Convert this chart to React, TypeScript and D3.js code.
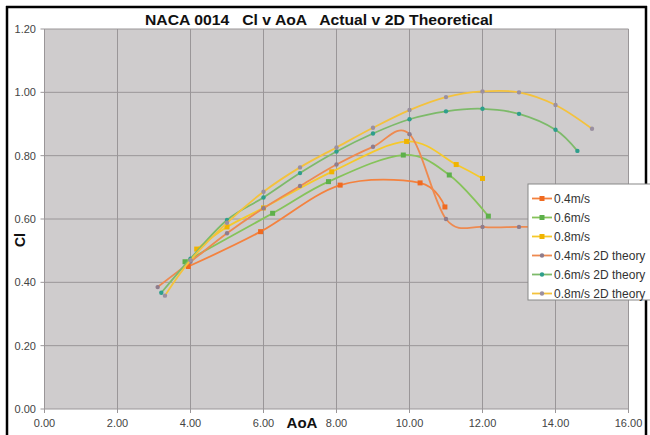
import React from "react";
import * as d3 from "d3";

const title = "NACA 0014   Cl v AoA   Actual v 2D Theoretical";
const xTicks = [0, 2, 4, 6, 8, 10, 12, 14, 16];
const yTicks = [0, 0.2, 0.4, 0.6, 0.8, 1.0, 1.2];

const aoa04 = [3.94, 5.92, 8.1, 10.29, 10.97];
const cl04 = [0.45, 0.56, 0.707, 0.714, 0.638];
const aoa06 = [3.85, 6.25, 7.78, 9.83, 11.09, 12.16];
const cl06 = [0.465, 0.618, 0.718, 0.802, 0.739, 0.609];
const aoa08 = [4.17, 5.0, 6.0, 7.87, 9.92, 11.28, 12.0];
const cl08 = [0.505, 0.575, 0.635, 0.749, 0.845, 0.772, 0.728];

const aoaTh04 = [3.1, 4, 5, 6, 7, 8, 9, 10, 11, 12, 13, 14];
const clTh04 = [0.385, 0.465, 0.555, 0.634, 0.704, 0.772, 0.828, 0.868, 0.6, 0.575, 0.575, 0.575];
const aoaTh06 = [3.2, 4, 5, 6, 7, 8, 9, 10, 11, 12, 13, 14, 14.6];
const clTh06 = [0.367, 0.475, 0.597, 0.668, 0.745, 0.813, 0.87, 0.915, 0.94, 0.948, 0.932, 0.882, 0.815];
const aoaTh08 = [3.3, 4, 5, 6, 7, 8, 9, 10, 11, 12, 13, 14, 15];
const clTh08 = [0.358, 0.47, 0.588, 0.686, 0.763, 0.826, 0.888, 0.944, 0.985, 1.003, 1.0, 0.96, 0.885];

const seriesNames = ["0.4m/s", "0.6m/s", "0.8m/s", "0.4m/s 2D theory", "0.6m/s 2D theory", "0.8m/s 2D theory"];

type S = { name: string; xs: number[]; ys: number[]; line: string; marker: string; square: boolean };

const series: S[] = [
  { name: seriesNames[0], xs: aoa04, ys: cl04, line: "#F4823E", marker: "#F06A20", square: true },
  { name: seriesNames[1], xs: aoa06, ys: cl06, line: "#86C35A", marker: "#5DB04A", square: true },
  { name: seriesNames[2], xs: aoa08, ys: cl08, line: "#F6C92A", marker: "#F0B400", square: true },
  { name: seriesNames[3], xs: aoaTh04, ys: clTh04, line: "#EE8A50", marker: "#8E7C8C", square: false },
  { name: seriesNames[4], xs: aoaTh06, ys: clTh06, line: "#7DBA6A", marker: "#2E9E8C", square: false },
  { name: seriesNames[5], xs: aoaTh08, ys: clTh08, line: "#F4C23C", marker: "#9A8FA0", square: false },
];

const W = 650;
const H = 435;
const left = 44.5, right = 628.5, top = 29, bottom = 409;

export default function App() {
  const x = d3.scaleLinear().domain([0, 16]).range([left, right]);
  const y = d3.scaleLinear().domain([0, 1.2]).range([bottom, top]);
  const line = d3
    .line<[number, number]>()
    .x((d) => x(d[0]))
    .y((d) => y(d[1]))
    .curve(d3.curveCatmullRom.alpha(0));

  const font = "'Liberation Sans', Arial, sans-serif";
  const legX = 528, legY = 184, legW = 124, legH = 116;

  return (
    <svg
      width={W}
      height={H}
      style={{ position: "fixed", left: 0, top: 0, background: "#fff" }}
      fontFamily={font}
    >
      <rect x={0} y={0} width={W} height={H} fill="#fff" />
      {/* frame */}
      <line x1={7} y1={6} x2={7} y2={H} stroke="#000" strokeWidth={2.5} />
      <line x1={6} y1={7} x2={647} y2={7} stroke="#000" strokeWidth={2.5} />
      <line x1={646} y1={6} x2={646} y2={H} stroke="#000" strokeWidth={2.5} />

      {/* plot area */}
      <rect x={left} y={top} width={right - left} height={bottom - top} fill="#CFCCCD" />
      {xTicks.map((t) => (
        <line key={"gx" + t} x1={x(t)} x2={x(t)} y1={top} y2={bottom + 4} stroke="#9A9698" strokeWidth={1} />
      ))}
      {yTicks.map((t) => (
        <line key={"gy" + t} x1={left - 4} x2={right} y1={y(t)} y2={y(t)} stroke="#9A9698" strokeWidth={1} />
      ))}
      {xTicks.map((t) => (
        <text key={"tx" + t} x={x(t)} y={427} fontSize={11} fill="#444" textAnchor="middle">
          {t.toFixed(2)}
        </text>
      ))}
      {yTicks.map((t) => (
        <text key={"ty" + t} x={36} y={y(t) + 4} fontSize={11} fill="#444" textAnchor="end">
          {t.toFixed(2)}
        </text>
      ))}

      {/* series */}
      {series.map((s) => {
        const pts: [number, number][] = s.xs.map((v, i) => [v, s.ys[i]]);
        return (
          <g key={s.name}>
            <path d={line(pts) || ""} fill="none" stroke={s.line} strokeWidth={1.8} />
            {pts.map((p, i) =>
              s.square ? (
                <rect key={i} x={x(p[0]) - 2.5} y={y(p[1]) - 2.5} width={5} height={5} fill={s.marker} />
              ) : (
                <circle key={i} cx={x(p[0])} cy={y(p[1])} r={2.2} fill={s.marker} />
              )
            )}
          </g>
        );
      })}

      {/* titles */}
      <text
        x={319}
        y={25}
        fontSize={15}
        fontWeight="bold"
        textAnchor="middle"
        fill="#111"
        textLength={348}
        lengthAdjust="spacingAndGlyphs"
        style={{ whiteSpace: "pre" }}
      >
        {title}
      </text>
      <text x={302} y={428} fontSize={15} fontWeight="bold" textAnchor="middle" fill="#111">
        AoA
      </text>
      <text
        transform="translate(25,240) rotate(-90)"
        fontSize={14}
        fontWeight="bold"
        textAnchor="middle"
        fill="#111"
      >
        Cl
      </text>

      {/* legend */}
      <rect x={legX} y={legY} width={legW} height={legH} fill="#fff" stroke="#888" strokeWidth={1} />
      {series.map((s, i) => {
        const cy = 198.5 + i * 19;
        return (
          <g key={"lg" + s.name}>
            <line x1={532} x2={552} y1={cy} y2={cy} stroke={s.line} strokeWidth={1.8} />
            {s.square ? (
              <rect x={539.5} y={cy - 2.5} width={5} height={5} fill={s.marker} />
            ) : (
              <circle cx={542} cy={cy} r={2.2} fill={s.marker} />
            )}
            <text x={554} y={cy + 4} fontSize={12} fill="#333">
              {s.name}
            </text>
          </g>
        );
      })}
    </svg>
  );
}
